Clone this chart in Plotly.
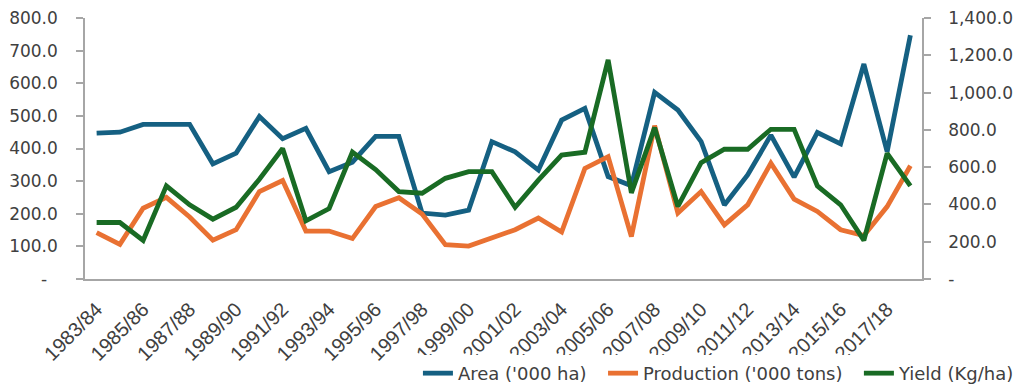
import plotly.graph_objects as go

# Crop seasons (one category per season)
seasons = [
    "1983/84", "1984/85", "1985/86", "1986/87", "1987/88", "1988/89",
    "1989/90", "1990/91", "1991/92", "1992/93", "1993/94", "1994/95",
    "1995/96", "1996/97", "1997/98", "1998/99", "1999/00", "2000/01",
    "2001/02", "2002/03", "2003/04", "2004/05", "2005/06", "2006/07",
    "2007/08", "2008/09", "2009/10", "2010/11", "2011/12", "2012/13",
    "2013/14", "2014/15", "2015/16", "2016/17", "2017/18", "2018/19",
]

# Area ('000 ha) - left axis
area = [447, 450, 474, 474, 474, 353, 386, 498, 430, 462, 329, 358,
        437, 437, 202, 196, 211, 421, 390, 334, 487, 523, 314, 286,
        572, 518, 421, 227, 319, 441, 312, 449, 414, 659, 390, 747]

# Production ('000 tons) - left axis
production = [142, 106, 217, 250, 190, 119, 151, 268, 302, 147, 147, 124,
              222, 249, 199, 105, 101, 125, 151, 187, 144, 339, 375, 130,
              470, 202, 268, 166, 227, 355, 245, 207, 151, 133, 222, 347]

# Yield (Kg/ha) - right axis
yield_kg = [303, 303, 207, 500, 398, 321, 385, 535, 700, 312, 378, 681,
            587, 469, 460, 540, 576, 576, 385, 530, 665, 680, 1175, 462,
            812, 389, 624, 696, 696, 803, 803, 499, 398, 207, 674, 499]

# Axis ticks
left_ticks = [0, 100, 200, 300, 400, 500, 600, 700, 800]
right_ticks = [0, 200, 400, 600, 800, 1000, 1200, 1400]
label_seasons = seasons[::2]

font_family = "DejaVu Sans"
text_color = "#404040"
axis_color = "#a6a6a6"

fig = go.Figure()
fig.add_trace(go.Scatter(x=seasons, y=area, name="Area ('000 ha)\u00a0\u00a0", mode="lines",
                         line=dict(color="#156082", width=4.8)))
fig.add_trace(go.Scatter(x=seasons, y=production, name="Production ('000 tons)\u00a0\u00a0", mode="lines",
                         line=dict(color="#E97132", width=4.8)))
fig.add_trace(go.Scatter(x=seasons, y=yield_kg, name="Yield (Kg/ha)", mode="lines",
                         line=dict(color="#196B24", width=4.8), yaxis="y2"))

def fmt_left(v):
    return "-\u00a0\u00a0" if v == 0 else f"{v:,.1f}"

def fmt_right(v):
    return "-" if v == 0 else f"{v:,.1f}"

n = len(seasons)
fig.update_layout(
    width=1023, height=387,
    margin=dict(l=85, r=101, t=18, b=108),
    paper_bgcolor="white", plot_bgcolor="white",
    font=dict(family=font_family, size=17, color=text_color),
    showlegend=True,
    legend=dict(orientation="h", xref="container", yref="container",
                x=0.997, xanchor="right", y=0.035, yanchor="middle",
                font=dict(size=18, color=text_color),
                itemwidth=30, traceorder="normal"),
    xaxis=dict(type="category", range=[-0.5, n - 0.5], automargin=False,
               tickmode="array", tickvals=label_seasons, ticktext=label_seasons,
               tickangle=-45, ticks="", showgrid=False, zeroline=False,
               showline=True, linecolor=axis_color, linewidth=1.5,
               ticklabelstandoff=9,
               tickfont=dict(family="Liberation Sans", size=20, color=text_color)),
    # tick marks on the category boundaries
    xaxis2=dict(overlaying="x", anchor="y", side="bottom", automargin=False,
                range=[-0.5, n - 0.5],
                tickmode="array", tickvals=[k - 0.5 for k in range(n + 1)],
                ticks="outside", ticklen=6, tickcolor=axis_color, tickwidth=1.5,
                showticklabels=False, showgrid=False, zeroline=False, showline=False),
    yaxis=dict(range=[0, 800], tickmode="array", tickvals=left_ticks, automargin=False,
               ticktext=[fmt_left(v) for v in left_ticks],
               ticks="outside", ticklen=7, tickcolor=axis_color, tickwidth=1.5,
               showline=True, linecolor=axis_color, linewidth=1.5,
               showgrid=False, zeroline=False, ticklabelstandoff=15,
               tickfont=dict(size=17, color=text_color)),
    yaxis2=dict(range=[0, 1400], overlaying="y", side="right", anchor="x", automargin=False,
                tickmode="array", tickvals=right_ticks,
                ticktext=[fmt_right(v) for v in right_ticks],
                ticks="outside", ticklen=7, tickcolor=axis_color, tickwidth=1.5,
                showline=True, linecolor=axis_color, linewidth=1.5,
                showgrid=False, zeroline=False, ticklabelstandoff=14,
                tickfont=dict(size=17, color=text_color)),
)

fig.write_html("out.html")
